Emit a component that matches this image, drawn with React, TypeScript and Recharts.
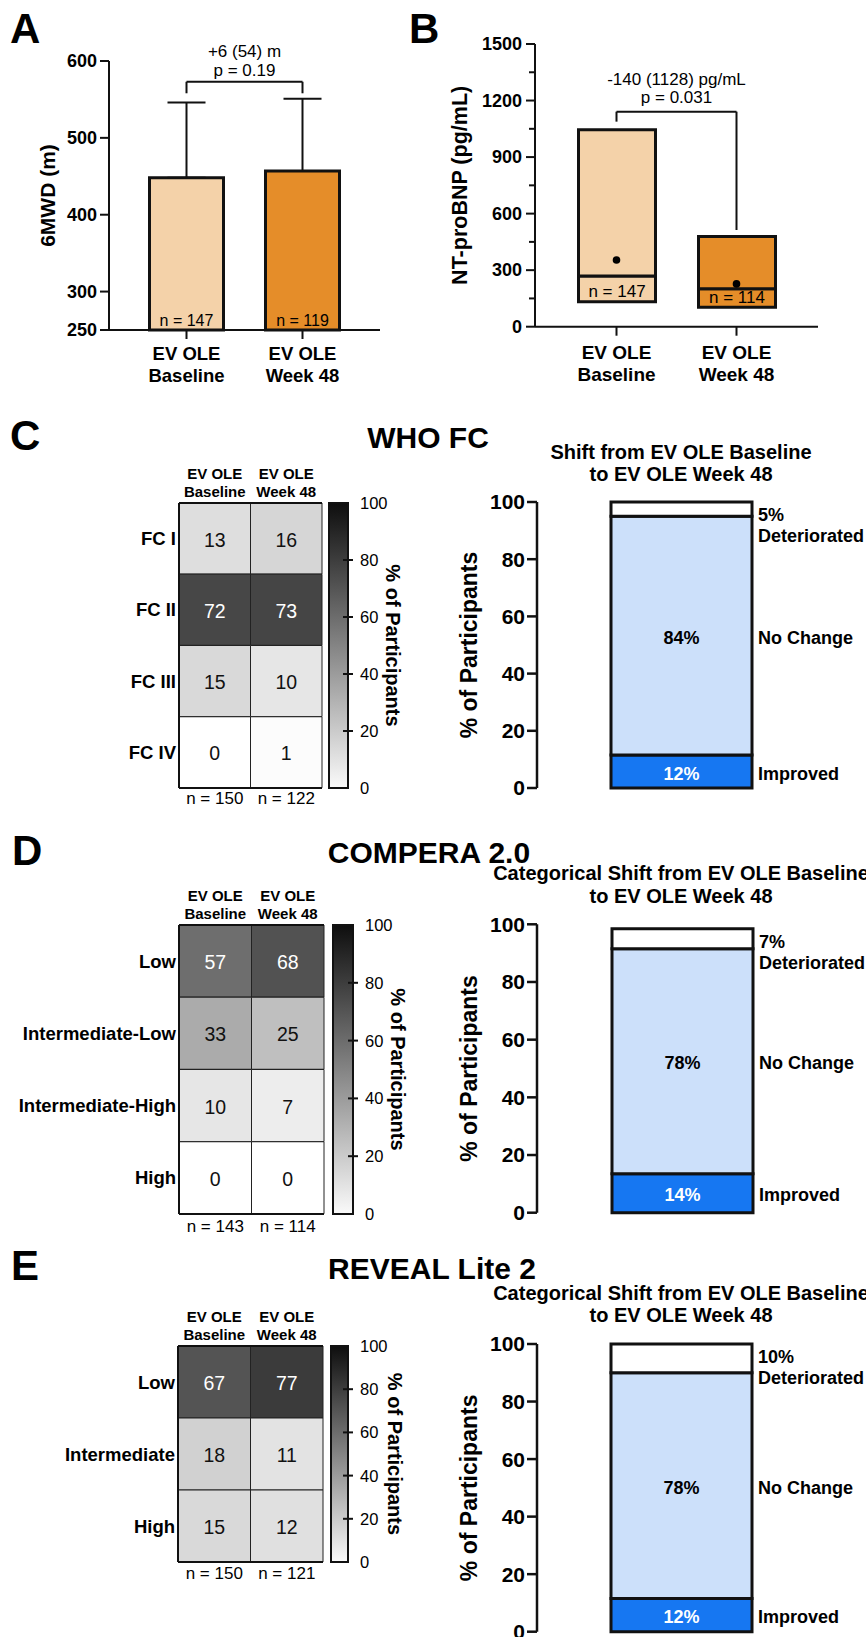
import React from "react";
import {
  BarChart,
  ComposedChart,
  Bar,
  Line,
  XAxis,
  YAxis,
  Cell,
  LabelList,
  ErrorBar,
  ReferenceLine,
} from "recharts";

const FONT = '"Liberation Sans", Arial, Helvetica, sans-serif';
const INK = "#000";
const LINE = "#111";

// EV OLE visits
const visitNames = ["Baseline", "Week 48"];
const visitFills = ["#F4D2A9", "#E58D29"];

// A: 6MWD (m), mean + SD
const sixMwdMean = [448, 457];
const sixMwdSd = [98, 94];
const sixMwdN = [147, 119];
const sixMwdTicks = [250, 300, 400, 500, 600];

// B: NT-proBNP (pg/mL), box = Q1..Q3, line = median, dot = mean
const bnpQ1 = [133, 103];
const bnpMedian = [269, 202];
const bnpQ3 = [1045, 478];
const bnpMean = [354, 227];
const bnpN = [147, 114];
const bnpTicks = [0, 150, 300, 450, 600, 750, 900, 1050, 1200, 1350, 1500];

// C: WHO FC
const whoRows = ["FC I", "FC II", "FC III", "FC IV"];
const whoBaseline = [13, 72, 15, 0];
const whoWeek48 = [16, 73, 10, 1];
const whoN = [150, 122];
const whoShift = [11.5, 83.5, 5];
const whoShiftText = ["12%", "84%", "5%"];

// D: COMPERA 2.0
const comperaRows = ["Low", "Intermediate-Low", "Intermediate-High", "High"];
const comperaBaseline = [57, 33, 10, 0];
const comperaWeek48 = [68, 25, 7, 0];
const comperaN = [143, 114];
const comperaShift = [13.5, 78, 7];
const comperaShiftText = ["14%", "78%", "7%"];

// E: REVEAL Lite 2
const revealRows = ["Low", "Intermediate", "High"];
const revealBaseline = [67, 18, 15];
const revealWeek48 = [77, 11, 12];
const revealN = [150, 121];
const revealShift = [11.5, 78.5, 10];
const revealShiftText = ["12%", "78%", "10%"];

const pctTicks = [0, 20, 40, 60, 80, 100];
const shiftNames = ["Improved", "No Change", "Deteriorated"];
const shiftFills = ["#1677F2", "#CCE0FA", "#FFFFFF"];

const axisStyle = { stroke: LINE, strokeWidth: 2 };

const grey = (v: number) => {
  const g = Math.round(255 * (1 - v / 100));
  return `rgb(${g},${g},${g})`;
};

const rectOf = (p: any) => {
  const v = p.viewBox && p.viewBox.width != null ? p.viewBox : p;
  let x = +v.x, y = +v.y, w = +v.width, h = +v.height;
  if (h < 0) { y += h; h = -h; }
  if (w < 0) { x += w; w = -w; }
  return { x, y, w, h };
};

// rotated axis title, centred on the axis viewBox
const vLabel = (text: string, cx: number, size: number, angle: number) => (p: any) => {
  const vb = p.viewBox || {};
  const cy = (vb.y ?? 0) + (vb.height ?? 0) / 2;
  return (
    <text x={cx} y={cy} transform={`rotate(${angle} ${cx} ${cy})`} textAnchor="middle"
      dominantBaseline="central" fontSize={size} fontWeight={700} fill={INK}>
      {text}
    </text>
  );
};

const visitTick = (size: number, dy1: number, gap: number) => (p: any) => (
  <text x={p.x} y={p.y} textAnchor="middle" fontSize={size} fontWeight={700} fill={INK}>
    <tspan x={p.x} dy={dy1}>EV OLE</tspan>
    <tspan x={p.x} dy={gap}>{p.payload.value}</tspan>
  </text>
);

const nInside = (size: number) => (p: any) => {
  const r = rectOf(p);
  return (
    <text x={r.x + r.w / 2} y={r.y + r.h - 10} textAnchor="middle" dominantBaseline="central"
      fontSize={size} fill={INK}>
      n = {p.value}
    </text>
  );
};

const bracketText = (lines: string[], off1: number, off2: number, size: number) => (p: any) => {
  const vb = p.viewBox || {};
  const cx = vb.x1 != null ? (vb.x1 + vb.x2) / 2 : vb.x + vb.width / 2;
  const y = vb.y1 != null ? Math.min(vb.y1, vb.y2) : vb.y;
  return (
    <g>
      <text x={cx} y={y - off1} textAnchor="middle" dominantBaseline="central" fontSize={size} fill={INK}>{lines[0]}</text>
      <text x={cx} y={y - off2} textAnchor="middle" dominantBaseline="central" fontSize={size} fill={INK}>{lines[1]}</text>
    </g>
  );
};

function PanelA() {
  const table = visitNames.map((v, i) => ({ visit: v, mean: sixMwdMean[i], sd: [0, sixMwdSd[i]], n: sixMwdN[i] }));
  return (
    <div style={{ position: "absolute", left: 0, top: 0 }}>
      <BarChart width={420} height={400} data={table} margin={{ top: 61, right: 40, bottom: 10, left: 49 }} barSize={74}>
        <XAxis dataKey="visit" height={60} padding={{ left: 19.5, right: 19.5 }} tickSize={9} tickMargin={2}
          axisLine={axisStyle} tickLine={axisStyle} tick={visitTick(18.5, 18.6, 22)} interval={0} />
        <YAxis domain={[250, 600]} ticks={sixMwdTicks} interval={0} width={60} tickSize={9} tickMargin={3}
          axisLine={axisStyle} tickLine={axisStyle} tick={{ fontSize: 18, fontWeight: 700, fill: INK }}
          label={vLabel("6MWD (m)", 47, 21, -90)} />
        <Bar dataKey="mean" stroke={LINE} strokeWidth={3} isAnimationActive={false}>
          {table.map((d, i) => <Cell key={d.visit} fill={visitFills[i]} />)}
          <ErrorBar dataKey="sd" width={19} stroke={LINE} strokeWidth={2} direction="y" />
          <LabelList dataKey="n" content={nInside(16)} />
        </Bar>
        <ReferenceLine segment={[{ x: "Baseline", y: 558 }, { x: "Baseline", y: 573 }]} stroke={LINE} strokeWidth={2} />
        <ReferenceLine segment={[{ x: "Baseline", y: 573 }, { x: "Week 48", y: 573 }]} stroke={LINE} strokeWidth={2}
          label={bracketText(["+6 (54) m", "p = 0.19"], 30, 11, 17)} />
        <ReferenceLine segment={[{ x: "Week 48", y: 573 }, { x: "Week 48", y: 558 }]} stroke={LINE} strokeWidth={2} />
      </BarChart>
    </div>
  );
}

const bnpTick = (p: any) => {
  const v = p.payload.value;
  const major = v % 300 === 0;
  return (
    <g>
      <line x1={p.x + (major ? 4 : 7)} x2={p.x + 13} y1={p.y} y2={p.y} stroke={LINE} strokeWidth={2} />
      {major && (
        <text x={p.x} y={p.y} textAnchor="end" dominantBaseline="central" fontSize={18} fontWeight={700} fill={INK}>{v}</text>
      )}
    </g>
  );
};

function PanelB() {
  const table = visitNames.map((v, i) => ({
    visit: v,
    q1: bnpQ1[i],
    lower: bnpMedian[i] - bnpQ1[i],
    upper: bnpQ3[i] - bnpMedian[i],
    mean: bnpMean[i],
    n: bnpN[i],
  }));
  return (
    <div style={{ position: "absolute", left: 420, top: 0 }}>
      <ComposedChart width={446} height={400} data={table} margin={{ top: 44, right: 48, bottom: 13.3, left: 45 }} barSize={77}>
        <XAxis dataKey="visit" height={60} padding={{ left: 21.5, right: 21.5 }} tickSize={9} tickMargin={2}
          axisLine={axisStyle} tickLine={axisStyle} tick={visitTick(19, 21, 22)} interval={0} />
        <YAxis domain={[0, 1500]} ticks={bnpTicks} interval={0} width={70} tickSize={9} tickMargin={4}
          axisLine={axisStyle} tickLine={false} tick={bnpTick}
          label={vLabel("NT-proBNP (pg/mL)", 40, 21.5, -90)} />
        <Bar dataKey="q1" stackId="box" fill="transparent" stroke="none" isAnimationActive={false} />
        <Bar dataKey="lower" stackId="box" stroke={LINE} strokeWidth={3} isAnimationActive={false}>
          {table.map((d, i) => <Cell key={d.visit} fill={visitFills[i]} />)}
          <LabelList dataKey="n" content={nInside(17)} />
        </Bar>
        <Bar dataKey="upper" stackId="box" stroke={LINE} strokeWidth={3} isAnimationActive={false}>
          {table.map((d, i) => <Cell key={d.visit} fill={visitFills[i]} />)}
        </Bar>
        <Line dataKey="mean" stroke="none" dot={{ r: 3.8, fill: INK, stroke: "none" }} activeDot={false} isAnimationActive={false} />
        <ReferenceLine segment={[{ x: "Baseline", y: 1088 }, { x: "Baseline", y: 1141 }]} stroke={LINE} strokeWidth={2} />
        <ReferenceLine segment={[{ x: "Baseline", y: 1141 }, { x: "Week 48", y: 1141 }]} stroke={LINE} strokeWidth={2}
          label={bracketText(["-140 (1128) pg/mL", "p = 0.031"], 31.7, 13.7, 17)} />
        <ReferenceLine segment={[{ x: "Week 48", y: 1141 }, { x: "Week 48", y: 513 }]} stroke={LINE} strokeWidth={2} />
      </ComposedChart>
    </div>
  );
}

type HeatProps = {
  id: string;
  rows: string[];
  base: number[];
  wk: number[];
  n: number[];
  top: number;
  height: number;
  x0: number;
  x1: number;
  y0: number;
  y1: number;
  nDy: number;
  cb: [number, number];
  cbLabelX: number;
};

const rowTick = (p: any) => (
  <text x={p.x} y={p.y} textAnchor="end" dominantBaseline="central" fontSize={18.5} fontWeight={700} fill={INK}>
    {p.payload.value}
  </text>
);

// column tick: "n = ..." under the grid and the visit header above it
const columnTick = (n: number[], nDy: number, headY: number) => (p: any) => {
  const i = Math.floor(p.payload.value);
  return (
    <g>
      <text x={p.x} y={headY} textAnchor="middle" fontSize={15} fontWeight={700} fill={INK}>
        <tspan x={p.x} dy={-23.6}>EV OLE</tspan>
        <tspan x={p.x} dy={18}>{visitNames[i]}</tspan>
      </text>
      <text x={p.x} y={p.y + nDy} textAnchor="middle" dominantBaseline="central" fontSize={17} fill={INK}>
        n = {n[i]}
      </text>
    </g>
  );
};

const cellText = (p: any) => {
  const r = rectOf(p);
  return (
    <text x={r.x + r.w / 2} y={r.y + r.h / 2 + 1} textAnchor="middle" dominantBaseline="central"
      fontSize={19.5} fill={p.value > 50 ? "#fff" : "#111"}>
      {p.value}
    </text>
  );
};

const cbTick = (p: any) => {
  const v = p.payload.value;
  return (
    <g>
      {v > 0 && v < 100 && <line x1={p.x - 17} x2={p.x - 7} y1={p.y} y2={p.y} stroke={LINE} strokeWidth={2} />}
      <text x={p.x} y={p.y} dominantBaseline="central" fontSize={16.5} fill={INK}>{v}</text>
    </g>
  );
};

function Heatmap(h: HeatProps) {
  const W = 430;
  const table = h.rows.map((r, i) => ({ row: r, baseline: h.base[i], week48: h.wk[i], colA: 1, colB: 1 }));
  return (
    <div style={{ position: "absolute", left: 0, top: h.top, width: W, height: h.height }}>
      <div style={{ position: "absolute", left: 0, top: 0 }}>
        <BarChart width={W} height={h.height} data={table} layout="vertical" barCategoryGap={0}
          margin={{ top: h.y0 - 40, bottom: h.height - h.y1 - 30, left: h.x0 - 176, right: W - h.x1 }}>
          <Bar xAxisId="b" yAxisId="l" dataKey="colA" stackId="h" isAnimationActive={false}>
            {table.map((d) => <Cell key={d.row} fill={grey(d.baseline)} stroke="#222" strokeWidth={1} />)}
            <LabelList dataKey="baseline" content={cellText} />
          </Bar>
          <Bar xAxisId="b" yAxisId="l" dataKey="colB" stackId="h" isAnimationActive={false}>
            {table.map((d) => <Cell key={d.row} fill={grey(d.week48)} stroke="#222" strokeWidth={1} />)}
            <LabelList dataKey="week48" content={cellText} />
          </Bar>
          <XAxis xAxisId="t" orientation="top" type="number" domain={[0, 2]} ticks={[0.5, 1.5]} interval={0}
            height={40} tickSize={0} tickMargin={0} tickLine={false} axisLine={axisStyle} tick={false} />
          <XAxis xAxisId="b" orientation="bottom" type="number" domain={[0, 2]} ticks={[0.5, 1.5]} interval={0}
            height={30} tickSize={0} tickMargin={0} tickLine={false} axisLine={axisStyle}
            tick={columnTick(h.n, h.nDy, h.y0)} />
          <YAxis yAxisId="l" type="category" dataKey="row" width={176} tickSize={0} tickMargin={3}
            tickLine={false} axisLine={axisStyle} tick={rowTick} interval={0} />
          <YAxis yAxisId="r" orientation="right" type="category" dataKey="row" width={0} tick={false}
            tickLine={false} axisLine={axisStyle} />
        </BarChart>
      </div>
      <div style={{ position: "absolute", left: 0, top: 0 }}>
        <BarChart width={W} height={h.height} data={[{ scale: "cb", pct: 100 }]} barCategoryGap={0}
          margin={{ top: h.y0, bottom: h.height - h.y1, left: h.cb[0], right: W - h.cb[1] - 60 }}>
          <defs>
            <linearGradient id={h.id} x1="0" y1="0" x2="0" y2="1">
              <stop offset="0%" stopColor="#0e0e0e" />
              <stop offset="100%" stopColor="#fafafa" />
            </linearGradient>
          </defs>
          <XAxis dataKey="scale" hide />
          <YAxis orientation="right" domain={[0, 100]} ticks={pctTicks} interval={0} width={60} tickSize={0}
            tickMargin={12} tickLine={false} axisLine={false} tick={cbTick}
            label={vLabel("% of Participants", h.cbLabelX, 20, 90)} />
          <Bar dataKey="pct" fill={`url(#${h.id})`} stroke={LINE} strokeWidth={2} isAnimationActive={false} />
        </BarChart>
      </div>
    </div>
  );
}

const shiftLabel = (i: number, texts: string[]) => (p: any) => {
  const r = rectOf(p);
  const rx = r.x + r.w + 6;
  const cy = r.y + r.h / 2 + 2;
  if (i === 2) {
    return (
      <g>
        <text x={rx} y={r.y + 13} dominantBaseline="central" fontSize={18} fontWeight={700} fill={INK}>{texts[2]}</text>
        <text x={rx} y={r.y + 34} dominantBaseline="central" fontSize={18} fontWeight={700} fill={INK}>{shiftNames[2]}</text>
      </g>
    );
  }
  return (
    <g>
      <text x={r.x + r.w / 2} y={cy} textAnchor="middle" dominantBaseline="central" fontSize={18} fontWeight={700}
        fill={i === 0 ? "#fff" : INK}>{texts[i]}</text>
      <text x={rx} y={cy} dominantBaseline="central" fontSize={18} fontWeight={700} fill={INK}>{shiftNames[i]}</text>
    </g>
  );
};

type ShiftProps = { top: number; height: number; y0: number; y1: number; x1: number; values: number[]; texts: string[] };

function ShiftBar(s: ShiftProps) {
  const keys = ["improved", "same", "worse"];
  const table = [{ cat: "shift", improved: s.values[0], same: s.values[1], worse: s.values[2] }];
  const ax = { stroke: LINE, strokeWidth: 2.5 };
  return (
    <div style={{ position: "absolute", left: 430, top: s.top }}>
      <BarChart width={436} height={s.height} data={table} barSize={141}
        margin={{ top: s.y0, right: 436 - s.x1, bottom: s.height - s.y1, left: 17 }}>
        <XAxis dataKey="cat" height={0} tick={false} tickLine={false} axisLine={ax} />
        <YAxis domain={[0, 100]} ticks={pctTicks} interval={0} width={90} tickSize={10} tickMargin={2}
          axisLine={ax} tickLine={ax} tick={{ fontSize: 21, fontWeight: 700, fill: INK }}
          label={vLabel("% of Participants", 39, 23, -90)} />
        {keys.map((k, i) => (
          <Bar key={k} dataKey={k} stackId="s" fill={shiftFills[i]} stroke={LINE} strokeWidth={3} isAnimationActive={false}>
            <LabelList dataKey={k} content={shiftLabel(i, s.texts)} />
          </Bar>
        ))}
      </BarChart>
    </div>
  );
}

function Overlay() {
  const t = (x: number, y: number, size: number, s: string) => (
    <text x={x} y={y} textAnchor="middle" dominantBaseline="central" fontSize={size} fontWeight={700} fill={INK}>{s}</text>
  );
  return (
    <svg width={866} height={1637} style={{ position: "absolute", left: 0, top: 0, pointerEvents: "none" }}>
      <text x={10} y={43} fontSize={42} fontWeight={700} fill={INK}>A</text>
      <text x={409} y={43} fontSize={42} fontWeight={700} fill={INK}>B</text>
      <text x={10} y={450} fontSize={42} fontWeight={700} fill={INK}>C</text>
      <text x={12} y={865} fontSize={42} fontWeight={700} fill={INK}>D</text>
      <text x={11} y={1280} fontSize={42} fontWeight={700} fill={INK}>E</text>
      {t(428, 437, 30, "WHO FC")}
      {t(681, 452, 20, "Shift from EV OLE Baseline")}
      {t(681, 474, 20, "to EV OLE Week 48")}
      {t(429, 852, 30, "COMPERA 2.0")}
      {t(681, 873, 20, "Categorical Shift from EV OLE Baseline")}
      {t(681, 896, 20, "to EV OLE Week 48")}
      {t(432, 1268, 30, "REVEAL Lite 2")}
      {t(681, 1293, 20, "Categorical Shift from EV OLE Baseline")}
      {t(681, 1315, 20, "to EV OLE Week 48")}
    </svg>
  );
}

export default function App() {
  return (
    <div style={{ position: "absolute", left: 0, top: 0, width: 866, height: 1637, overflow: "hidden", background: "#fff", fontFamily: FONT }}>
      <PanelA />
      <PanelB />
      <Heatmap id="gradC" rows={whoRows} base={whoBaseline} wk={whoWeek48} n={whoN} top={400} height={420}
        x0={179} x1={322} y0={103} y1={388} nDy={10} cb={[329, 348]} cbLabelX={393} />
      <ShiftBar top={400} height={420} y0={102} y1={388} x1={395} values={whoShift} texts={whoShiftText} />
      <Heatmap id="gradD" rows={comperaRows} base={comperaBaseline} wk={comperaWeek48} n={comperaN} top={830} height={420}
        x0={179} x1={324} y0={95} y1={384} nDy={12} cb={[333, 353]} cbLabelX={398} />
      <ShiftBar top={830} height={420} y0={94.3} y1={382.7} x1={397} values={comperaShift} texts={comperaShiftText} />
      <Heatmap id="gradE" rows={revealRows} base={revealBaseline} wk={revealWeek48} n={revealN} top={1230} height={407}
        x0={178} x1={323} y0={116} y1={332} nDy={11} cb={[331, 348]} cbLabelX={395} />
      <ShiftBar top={1230} height={407} y0={114} y1={401.7} x1={395} values={revealShift} texts={revealShiftText} />
      <Overlay />
    </div>
  );
}
